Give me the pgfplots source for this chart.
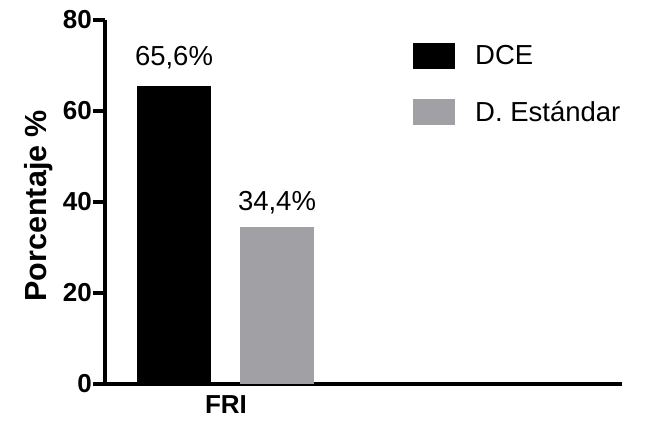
\documentclass[border=0pt]{standalone}
\usepackage{pgfplots}
\pgfplotsset{compat=1.18}
\usepackage{fontspec}
\setmainfont{Liberation Sans}
\definecolor{stdgray}{RGB}{160,160,165}
\begin{document}
\begin{tikzpicture}
\path[use as bounding box] (0pt,0pt) rectangle (670pt,-423pt);
\begin{axis}[
  at={(105pt,-384pt)}, anchor=south west,
  scale only axis,
  width=517pt, height=364pt,
  xmin=-121, xmax=396,
  ymin=0, ymax=80,
  axis x line=bottom, axis y line=left,
  axis line style={-, line width=4.8pt, black},
  ytick={0,20,40,60,80},
  xtick={0}, xticklabels={FRI},
  tick align=outside,
  major tick length=12pt,
  ytick style={line width=4.5pt, black},
  xtick style={draw=none},
  /pgf/number format/assume math mode=true,
  yticklabel style={font=\fontsize{26}{31}\selectfont\bfseries, inner sep=1pt},
  xticklabel style={font=\fontsize{26}{31}\selectfont\bfseries, inner sep=0pt, anchor=north, yshift=1pt},
  ylabel={Porcentaje \%},
  ylabel style={font=\fontsize{30.5}{36}\selectfont\bfseries, at={(axis description cs:-0.1122,0.49)}, anchor=base, rotate=0},
  ybar, bar width=74,
  legend cell align=left,
  legend style={at={(axis description cs:0.5957,0.937)}, anchor=north west, draw=none, fill=none,
    inner sep=0pt, row sep=30pt, font=\fontsize{27.5}{33}\selectfont,
    nodes={inner sep=0pt}},
  /tikz/every odd column/.append style={column sep=20pt},
  legend image code/.code={\fill[#1] (0pt,-13pt) rectangle (42pt,13pt);},
  nodes near coords style={font=\fontsize{27.5}{33}\selectfont, anchor=base},
]
\addplot[fill=black, draw=none, bar shift=-52,
  nodes near coords={65{,}6\%}, nodes near coords style={yshift=20pt}] coordinates {(0,65.6)};
\addlegendentry{DCE}
\addplot[fill=stdgray, draw=none, bar shift=51,
  nodes near coords={34{,}4\%}, nodes near coords style={yshift=17pt}] coordinates {(0,34.4)};
\addlegendentry{D. Estándar}
\end{axis}
\end{tikzpicture}
\end{document}
